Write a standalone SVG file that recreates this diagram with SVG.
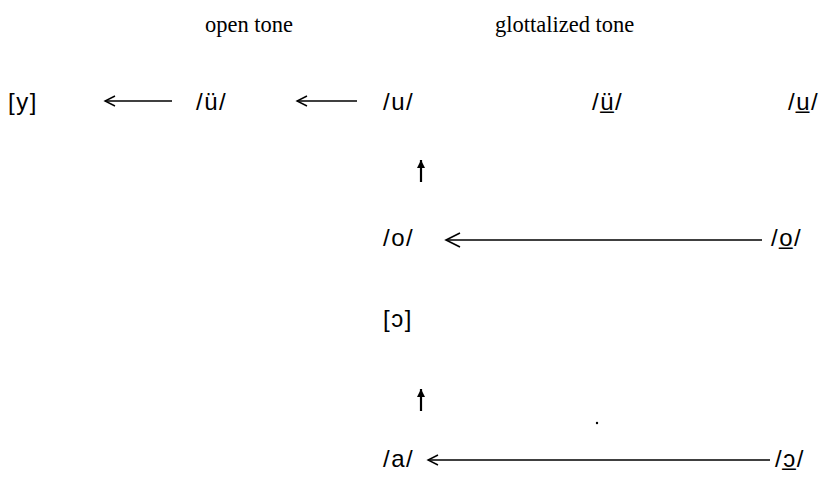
<svg xmlns="http://www.w3.org/2000/svg" width="827" height="493" viewBox="0 0 827 493">
<style>
.h{font-family:"Liberation Serif","Times New Roman",serif;font-size:22.5px;fill:#000}
.t{font-family:"Liberation Sans",Arial,sans-serif;font-size:24px;letter-spacing:1.5px;fill:#000}
.c{stroke:#000;stroke-width:1.6;fill:none}
</style>
<defs>
<marker id="ah" markerWidth="14" markerHeight="14" refX="12" refY="7" orient="auto" markerUnits="userSpaceOnUse">
<path d="M2,2 L12,7 L2,12" fill="none" stroke="#000" stroke-width="1.4"/>
</marker>
<marker id="ahb" markerWidth="18" markerHeight="18" refX="16" refY="9" orient="auto" markerUnits="userSpaceOnUse">
<path d="M2,2 L16,9 L2,16" fill="none" stroke="#000" stroke-width="1.6"/>
</marker>
<marker id="up" markerWidth="10" markerHeight="10" refX="9" refY="5" orient="auto" markerUnits="userSpaceOnUse">
<path d="M1,1 L9,5 L1,9 Z" fill="#000"/>
</marker>
</defs>
<g id="headers">
<text class="h" x="205" y="32">open tone</text>
<text class="h" x="495" y="32">glottalized tone</text>
</g>
<g id="n-y"><text class="t" x="8" y="110">[y]</text></g>
<g id="n-uu"><text class="t" x="196" y="110">/ü/</text></g>
<g id="n-u"><text class="t" x="383" y="110">/u/</text></g>
<g id="n-uu-g"><text class="t" x="592" y="110">/ü̲/</text></g>
<g id="n-u-g"><text class="t" x="788" y="110">/u̲/</text></g>
<g id="n-o"><text class="t" x="383" y="246">/o/</text></g>
<g id="n-o-g"><text class="t" x="771" y="246">/o̲/</text></g>
<g id="n-open-o"><text class="t" x="383" y="327">[ɔ]</text></g>
<g id="n-a"><text class="t" x="383" y="467">/a/</text></g>
<g id="n-open-o-g"><text class="t" x="775" y="467">/ɔ̲/</text></g>
<g id="connectors">
<line class="c" x1="172" y1="101" x2="105" y2="101" marker-end="url(#ah)"/>
<line class="c" x1="357" y1="101" x2="297" y2="101" marker-end="url(#ah)"/>
<line x1="421" y1="182" x2="421" y2="160" stroke="#000" stroke-width="2.2" marker-end="url(#up)"/>
<line class="c" x1="762" y1="240" x2="446" y2="240" marker-end="url(#ahb)"/>
<line x1="421" y1="411" x2="421" y2="389" stroke="#000" stroke-width="2.2" marker-end="url(#up)"/>
<line class="c" x1="770" y1="460" x2="428" y2="460" marker-end="url(#ah)"/>
</g>
<circle cx="597" cy="423" r="1.2" fill="#000"/>
</svg>
